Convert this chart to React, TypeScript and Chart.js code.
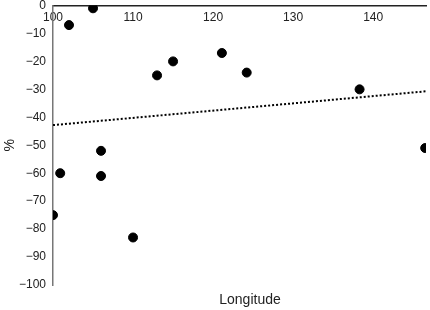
import React, { useEffect, useRef } from "react";
import { Chart, registerables } from "chart.js";

Chart.register(...registerables);

const longitudes = [100, 100.9, 102, 105, 106, 106, 110, 113, 115, 121.1, 124.2, 138.3, 146.5];
const percents = [-75, -60, -7, -1, -52, -61, -83, -25, -20, -17, -24, -30, -51];
const trendX = [100, 146.6];
const trendY = [-42.8, -30.7];
const xMin = 100;
const xMax = 146.6;
const yMin = -100;
const yMax = 0;
const xTitle = "Longitude";
const yTitle = "%";

const minus = (v: number | string) => String(v).replace("-", "\u2212");

export default function App() {
  const ref = useRef<HTMLCanvasElement | null>(null);
  useEffect(() => {
    if (!ref.current) return;
    Chart.defaults.font.family = "'Liberation Sans', Arial, sans-serif";
    Chart.defaults.color = "#222";
    const chart = new Chart(ref.current, {
      type: "scatter",
      data: {
        datasets: [
          {
            label: "points",
            data: longitudes.map((x, i) => ({ x, y: percents[i] })),
            backgroundColor: "#000",
            borderColor: "#000",
            pointRadius: 4.5,
            pointHoverRadius: 4.5,
          },
          {
            label: "trend",
            type: "line",
            data: trendX.map((x, i) => ({ x, y: trendY[i] })),
            borderColor: "#000",
            borderWidth: 2,
            borderDash: [2, 2],
            pointRadius: 0,
            showLine: true,
            fill: false,
          } as any,
        ],
      },
      options: {
        animation: false,
        responsive: false,
        devicePixelRatio: 1,
        layout: { padding: { top: 4, left: 0, right: 0, bottom: 0 } },
        plugins: {
          legend: { display: false },
          tooltip: { enabled: false },
          title: {
            display: true,
            position: "bottom",
            text: xTitle,
            color: "#222",
            font: { size: 14, weight: "normal" },
            padding: { top: 6.6, bottom: 1.6 },
          },
        },
        scales: {
          x: {
            type: "linear",
            position: "top",
            min: xMin,
            max: xMax,
            grid: { display: false, drawTicks: false },
            border: { display: true, color: "#222", width: 1.5 },
            ticks: {
              stepSize: 10,
              includeBounds: false,
              mirror: true,
              padding: 5.3,
              font: { size: 12 },
              color: "#222",
              callback: (v: any) => minus(v),
            },
            afterFit: (s: any) => {
              s.height = 1;
              s.paddingLeft = 0;
              s.paddingRight = 0;
            },
          },
          y: {
            type: "linear",
            position: "left",
            min: yMin,
            max: yMax,
            grid: { display: false, drawTicks: false },
            border: { display: true, color: "#777", width: 1.5 },
            ticks: {
              stepSize: 10,
              padding: 7,
              font: { size: 12 },
              color: "#222",
              callback: (v: any) => minus(v),
            },
            title: {
              display: true,
              text: yTitle,
              color: "#222",
              font: { size: 14 },
              padding: { top: 1.6, bottom: 0 },
            },
            afterFit: (s: any) => {
              s.width = 53;
              s.paddingTop = 0;
              s.paddingBottom = 0;
            },
          },
          yPad: {
            type: "linear",
            position: "right",
            display: true,
            grid: { display: false, drawTicks: false },
            border: { display: false },
            ticks: { display: false },
            afterFit: (s: any) => {
              s.width = 74;
              s.paddingTop = 0;
              s.paddingBottom = 0;
            },
          },
        },
      } as any,
    });
    return () => chart.destroy();
  }, []);
  return (
    <div
      style={{
        position: "fixed",
        left: 0,
        top: 0,
        width: 430,
        height: 310,
        overflow: "hidden",
        background: "#fff",
      }}
    >
      <canvas ref={ref} width={500} height={310} style={{ width: 500, height: 310, display: "block" }} />
    </div>
  );
}
